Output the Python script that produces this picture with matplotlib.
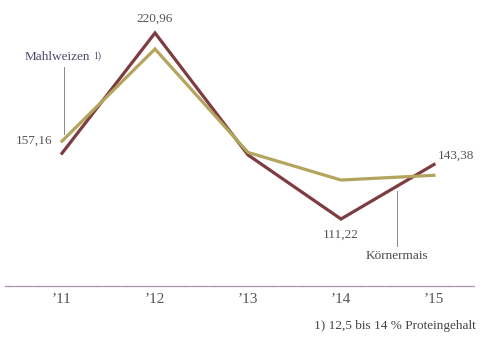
import matplotlib.pyplot as plt

# Preise in EUR/t
jahre = ["’11", "’12", "’13", "’14", "’15"]
mahlweizen = [157.16, 211.5, 150.5, 134.2, 137.0]
koernermais = [150.0, 220.96, 149.0, 111.22, 143.38]

plt.rcParams['font.family'] = ['Liberation Serif', 'DejaVu Serif']

fig = plt.figure(figsize=(4.83, 3.39), dpi=100)
ax = fig.add_axes([5 / 483, 1 - 286 / 339, 470 / 483, 286 / 339])

x = range(len(jahre))
ax.plot(x, koernermais, color='#7d3c3f', lw=2.3, solid_joinstyle='miter')
ax.plot(x, mahlweizen, color='#b3a45e', lw=2.3, solid_joinstyle='miter')

ax.set_xlim(-0.613, 4.441)
ax.set_ylim(71.7, 240.4)

for s in ['top', 'right', 'left']:
    ax.spines[s].set_visible(False)
ax.spines['bottom'].set_linestyle((0, (1, 1.2)))
ax.spines['bottom'].set_color('#a08aa6')
ax.spines['bottom'].set_linewidth(0.9)
ax.set_yticks([])
ax.set_xticks(list(x))
ax.set_xticklabels(jahre, fontsize=11, color='#555555')
ax.tick_params(axis='x', length=0, pad=5)

txt = dict(color='#555555', fontsize=9.5)
ax.annotate('220,96', (1, koernermais[1]), xytext=(0, 6), textcoords='offset points',
            ha='center', va='bottom', **txt)
ax.annotate('157,16', (0, mahlweizen[0]), xytext=(-7, 0), textcoords='offset points',
            ha='right', va='center', **txt)
ax.annotate('111,22', (3, koernermais[3]), xytext=(0, -7), textcoords='offset points',
            ha='center', va='top', **txt)
ax.annotate('143,38', (4, koernermais[4]), xytext=(3, 2), textcoords='offset points',
            ha='left', va='bottom', **txt)

# Beschriftungen mit Hinweislinien
ax.plot([0.02, 0.02], [mahlweizen[0] + 4, 201], color='#888888', lw=0.7)
ax.text(-0.40, 203, 'Mahlweizen', ha='left', va='bottom', color='#4a4a6a', fontsize=9.5)
ax.text(0.33, 204.5, '1)', ha='left', va='bottom', color='#4a4a6a', fontsize=7)
ax.plot([3.6, 3.6], [128, 95], color='#888888', lw=0.7)
ax.text(3.6, 93, 'Körnermais', ha='center', va='top', color='#4a4a4a', fontsize=9.5)

fig.text(476 / 483, 1 - 326 / 339, '1) 12,5 bis 14 % Proteingehalt',
         ha='right', va='center', color='#444444', fontsize=9.5)

fig.savefig('out.png', dpi=100)
